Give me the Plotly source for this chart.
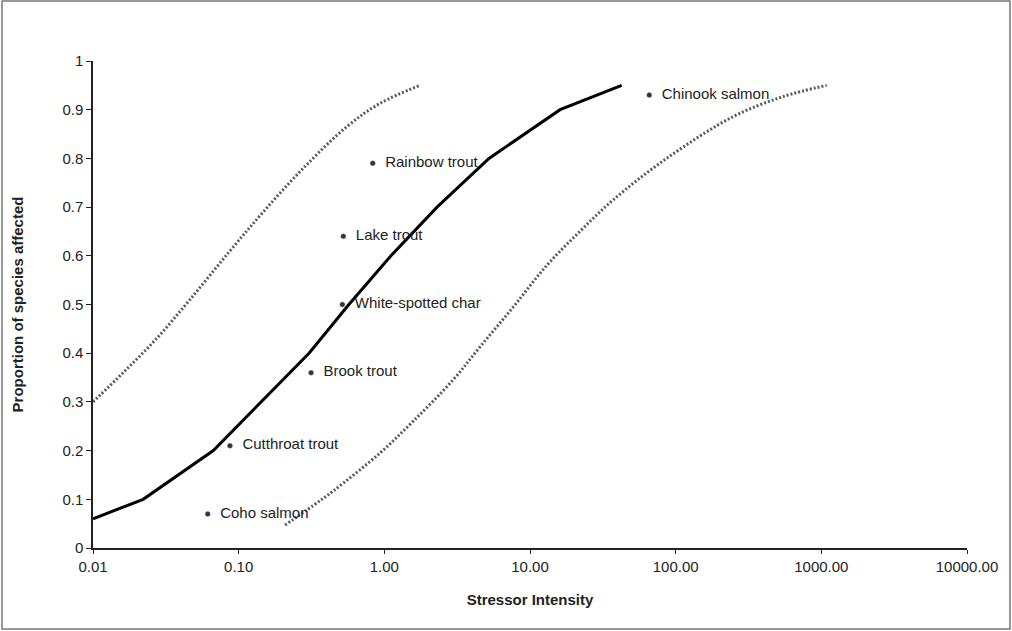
import plotly.graph_objects as go

# Main (median) response curve
main_x = [0.01, 0.0221, 0.067, 0.304, 0.571, 1.11, 2.30, 5.23, 16.1, 42.6]
main_y = [0.06, 0.10, 0.20, 0.40, 0.50, 0.60, 0.70, 0.80, 0.90, 0.95]

# Left dotted bound
low_x = [0.01, 0.0161, 0.0273, 0.0463, 0.0871, 0.1476, 0.278, 0.552, 0.933, 1.76]
low_y = [0.30, 0.36, 0.43, 0.51, 0.61, 0.69, 0.78, 0.865, 0.913, 0.95]

# Right dotted bound
high_x = [0.208, 0.324, 0.445, 0.933, 1.574, 2.96, 4.54, 7.68, 13.0, 22.0, 37.3, 86.7, 249, 548, 1089]
high_y = [0.047, 0.087, 0.117, 0.195, 0.26, 0.345, 0.413, 0.495, 0.58, 0.65, 0.715, 0.80, 0.886, 0.927, 0.95]

# Species points
species = ["Coho salmon", "Cutthroat trout", "Brook trout", "White-spotted char",
           "Lake trout", "Rainbow trout", "Chinook salmon"]
species_x = [0.0613, 0.0871, 0.314, 0.515, 0.523, 0.832, 65.9]
species_y = [0.07, 0.21, 0.36, 0.50, 0.64, 0.79, 0.93]

x_tickvals = [0.01, 0.1, 1, 10, 100, 1000, 10000]
x_ticktext = ["0.01", "0.10", "1.00", "10.00", "100.00", "1000.00", "10000.00"]
y_tickvals = [0, 0.1, 0.2, 0.3, 0.4, 0.5, 0.6, 0.7, 0.8, 0.9, 1]
y_ticktext = ["0", "0.1", "0.2", "0.3", "0.4", "0.5", "0.6", "0.7", "0.8", "0.9", "1"]

FONT = "Liberation Sans, Arial, sans-serif"
FS = 15

fig = go.Figure()
fig.add_trace(go.Scatter(x=low_x, y=low_y, mode="lines", line_shape="spline",
                         line=dict(color="#5a5a5a", width=3, dash="2px,2px"),
                         hoverinfo="skip", showlegend=False))
fig.add_trace(go.Scatter(x=high_x, y=high_y, mode="lines", line_shape="spline",
                         line=dict(color="#5a5a5a", width=3, dash="2px,2px"),
                         hoverinfo="skip", showlegend=False))
fig.add_trace(go.Scatter(x=main_x, y=main_y, mode="lines",
                         line=dict(color="black", width=3),
                         showlegend=False))
fig.add_trace(go.Scatter(x=species_x, y=species_y, mode="markers+text",
                         text=["  " + s for s in species],
                         textposition="middle right",
                         textfont=dict(family=FONT, size=FS, color="#222222"),
                         marker=dict(size=5, color="#333333",
                                     line=dict(color="#888888", width=0.5)),
                         showlegend=False))

W, H = 1012, 631
ml, mr, mt, mb = 93, 45, 61, 83
pw, ph = W - ml - mr, H - mt - mb

fig.update_layout(
    width=W, height=H,
    margin=dict(l=ml, r=mr, t=mt, b=mb),
    paper_bgcolor="white", plot_bgcolor="white",
    font=dict(family=FONT, size=FS, color="#222222"),
    xaxis=dict(type="log", range=[-2, 4], tickvals=x_tickvals, ticktext=x_ticktext,
               showgrid=False, zeroline=False, showline=True, linecolor="#222222",
               linewidth=1.5, ticks="outside", ticklen=4, tickcolor="#222222",
               tickfont=dict(size=FS, color="#222222"),
               title=dict(text="<b>Stressor Intensity</b>", font=dict(size=FS), standoff=21)),
    yaxis=dict(range=[0, 1], tickvals=y_tickvals, ticktext=y_ticktext,
               showgrid=False, zeroline=False, showline=True, linecolor="#222222",
               linewidth=1.5, ticks="outside", ticklen=5, tickcolor="#222222",
               tickfont=dict(size=FS, color="#222222"),
               title=dict(text="<b>Proportion of species affected</b>", font=dict(size=FS), standoff=35)),
    shapes=[dict(type="rect", xref="paper", yref="paper",
                 x0=(-ml + 2) / pw, x1=(pw + mr - 2) / pw,
                 y0=(-mb + 2) / ph, y1=(ph + mt - 1.0) / ph,
                 line=dict(color="#777777", width=1.5), layer="below")],
)

fig.write_html("out.html", config={"displayModeBar": False},
               post_script="document.body.style.margin='0px';")
